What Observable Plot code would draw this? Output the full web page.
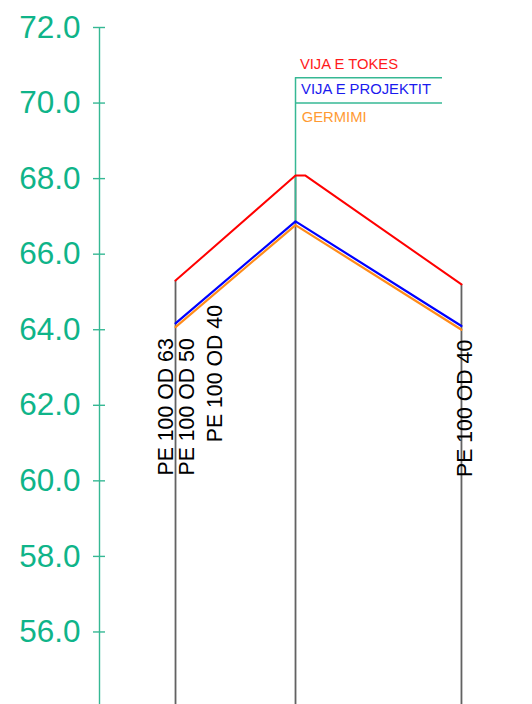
<!DOCTYPE html>
<html>
<head>
<meta charset="utf-8">
<script src="https://cdn.jsdelivr.net/npm/d3@7"></script>
<script src="https://cdn.jsdelivr.net/npm/@observablehq/plot@0.6"></script>
<style>
  html, body { margin: 0; padding: 0; background: #fff; }
  #chart svg { display: block; }
</style>
</head>
<body>
<div id="chart"></div>
<script>
// Chainage positions (m) of the stations
const stations = [12.67, 32.67, 60.33];
// Elevations (m)
const groundLine = [
  {x: 12.67, y: 65.30},
  {x: 32.67, y: 68.08},
  {x: 34.33, y: 68.08},
  {x: 60.33, y: 65.20}
];
const designLine = [64.17, 66.87, 64.10];
const excavationLine = [64.07, 66.77, 64.00];
const groundAtStation = [65.30, 68.08, 65.20];

const yTicks = [56, 58, 60, 62, 64, 66, 68, 70, 72];
const yMin = 54.08, yMax = 72;
const xMax = 72.17;

// Legend
const legendNames = ["VIJA E TOKES", "VIJA E PROJEKTIT", "GERMIMI"];
const legendColors = ["#ff1a1a", "#1a1aee", "#ff9a33"];
const legendY = [70.89, 70.23, 69.49];
const legendX = [33.4, 33.6, 33.7];
const legendBoxTop = 70.67, legendBoxMid = 70.0, legendBoxRight = 57.17;

// Pipe labels
const pipeLabels = [
  {text: "PE 100 OD 63", x: 12.33, y: 60.14},
  {text: "PE 100 OD 50", x: 15.67, y: 60.14},
  {text: "PE 100 OD 40", x: 20.5, y: 61.02},
  {text: "PE 100 OD 40", x: 62.12, y: 60.10}
];

const teal = "#0fb489";
const tealLine = "#36b894";
const font = "'Liberation Sans', Arial, Helvetica, sans-serif";

const design = stations.map((x, i) => ({x, y: designLine[i]}));
const excav = stations.map((x, i) => ({x, y: excavationLine[i]}));
const verticals = stations.map((x, i) => ({x, y1: groundAtStation[i], y2: yMin}));

const chart = Plot.plot({
  width: 532,
  height: 704,
  marginLeft: 99,
  marginRight: 0,
  marginTop: 27,
  marginBottom: 0,
  style: {fontFamily: font, background: "#fff"},
  x: {domain: [0, xMax], axis: null},
  y: {domain: [yMin, yMax]},
  marks: [
    Plot.axisY(yTicks, {
      tickSize: 0, tickPadding: 19, fontSize: 31.5, fill: teal,
      tickFormat: d => d.toFixed(1)
    }),
    Plot.ruleX([0], {y1: yMax, y2: yMin, stroke: tealLine, strokeWidth: 1.4}),
    Plot.ruleY(yTicks, {x1: -1, x2: 1, stroke: tealLine, strokeWidth: 1.4}),
    // station verticals
    Plot.ruleX(verticals, {x: "x", y1: "y1", y2: "y2", stroke: "#626262", strokeWidth: 1.8}),
    // teal vertical at middle station + legend box
    Plot.ruleX([stations[1]], {y1: legendBoxTop, y2: designLine[1], stroke: tealLine, strokeWidth: 1.5}),
    Plot.ruleY([legendBoxTop, legendBoxMid], {x1: stations[1], x2: legendBoxRight, stroke: tealLine, strokeWidth: 1.4}),
    // profile lines
    Plot.line(groundLine, {x: "x", y: "y", stroke: "#ff0000", strokeWidth: 2}),
    Plot.line(excav, {x: "x", y: "y", stroke: "#ff8c1a", strokeWidth: 2.2}),
    Plot.line(design, {x: "x", y: "y", stroke: "#0000ff", strokeWidth: 2.2}),
    // legend texts
    Plot.text(legendNames, {
      x: (d, i) => legendX[i], y: (d, i) => legendY[i], text: d => d,
      fill: (d, i) => legendColors[i], textAnchor: "start", lineAnchor: "bottom",
      fontSize: 14.8
    }),
    // pipe labels
    Plot.text(pipeLabels, {
      x: "x", y: "y", text: "text", rotate: -90, textAnchor: "start", lineAnchor: "bottom",
      fontSize: 21.3, fill: "#000"
    })
  ]
});
chart.style.fontFamily = font;
document.getElementById("chart").appendChild(chart);
</script>
</body>
</html>
